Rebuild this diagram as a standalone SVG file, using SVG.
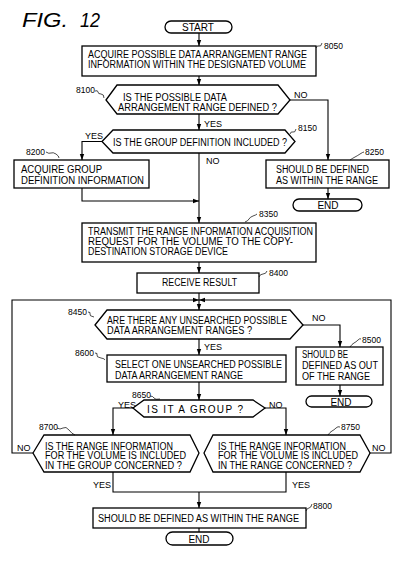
<svg xmlns="http://www.w3.org/2000/svg" width="400" height="567" viewBox="0 0 400 567">
<style>
.s{fill:#fff;stroke:#000;stroke-width:1.3}
.t{font-family:"Liberation Sans Narrow","Liberation Sans",Arial,sans-serif;font-size:10px;fill:#000}
.n{font-family:"Liberation Sans",Arial,sans-serif;font-size:8.5px;fill:#000}
.y{font-family:"Liberation Sans Narrow","Liberation Sans",Arial,sans-serif;font-size:9px;fill:#000}
.c{fill:none;stroke:#000;stroke-width:1.1}
.q{fill:none;stroke:#000;stroke-width:0.7}
.f{font-family:"Liberation Sans",Arial,sans-serif;font-style:italic;font-size:21px;fill:#000}
</style>
<defs>
<marker id="ah" viewBox="0 0 6 6" refX="6" refY="3" markerWidth="6" markerHeight="6" markerUnits="userSpaceOnUse" orient="auto"><path d="M0,0.8 L6,3 L0,5.2 z" fill="#000"/></marker>
</defs>
<rect width="400" height="567" fill="#fff"/>
<g id="title">
<text class="f" x="22" y="27" textLength="46" lengthAdjust="spacingAndGlyphs">FIG.</text>
<text class="f" x="80" y="27" textLength="20" lengthAdjust="spacingAndGlyphs">12</text>
</g>
<g id="connectors">
<path class="c" d="M199,33 V46" marker-end="url(#ah)"/>
<path class="c" d="M199,76 V85" marker-end="url(#ah)"/>
<path class="c" d="M290,100 H328 V160" marker-end="url(#ah)"/>
<path class="c" d="M199,114 V130" marker-end="url(#ah)"/>
<path class="c" d="M102,141.5 H82 V160" marker-end="url(#ah)"/>
<path class="c" d="M199,153 V223" marker-end="url(#ah)"/>
<path class="c" d="M82,188 V201 H199" marker-end="url(#ah)"/>
<path class="c" d="M328,188 V199" marker-end="url(#ah)"/>
<path class="c" d="M199,262 V273" marker-end="url(#ah)"/>
<path class="c" d="M199,293 V310" marker-end="url(#ah)"/>
<path class="c" d="M33,453 H12 V300 H199" marker-end="url(#ah)"/>
<path class="c" d="M370,453 H391 V300 H199" marker-end="url(#ah)"/>
<path class="c" d="M303,325 H340 V347" marker-end="url(#ah)"/>
<path class="c" d="M199,339 V355" marker-end="url(#ah)"/>
<path class="c" d="M340,385 V396" marker-end="url(#ah)"/>
<path class="c" d="M199,382 V400" marker-end="url(#ah)"/>
<path class="c" d="M133,408 H113 V435" marker-end="url(#ah)"/>
<path class="c" d="M265,408 H286 V435" marker-end="url(#ah)"/>
<path class="c" d="M113,472 V492 H286 V472"/>
<path class="c" d="M199,492 V508" marker-end="url(#ah)"/>
<path class="c" d="M199,528 V532" />
<text class="y" x="294" y="98">NO</text>
<text class="y" x="204" y="127">YES</text>
<text class="y" x="85" y="139">YES</text>
<text class="y" x="206" y="164">NO</text>
<text class="y" x="312" y="321">NO</text>
<text class="y" x="204" y="350">YES</text>
<text class="y" x="118" y="408">YES</text>
<text class="y" x="269" y="408">NO</text>
<text class="y" x="17" y="451">NO</text>
<text class="y" x="372" y="451">NO</text>
<text class="y" x="93" y="488">YES</text>
<text class="y" x="292" y="488">YES</text>
</g>
<g id="start">
<rect class="s" x="165" y="21" width="67" height="12" rx="6"/>
<text class="t" x="198" y="31" text-anchor="middle">START</text>
</g>
<g id="n8050">
<rect class="s" x="82" y="46" width="234" height="30"/>
<text class="t" x="88" y="58" textLength="219" lengthAdjust="spacingAndGlyphs">ACQUIRE POSSIBLE DATA ARRANGEMENT RANGE</text>
<text class="t" x="88" y="68" textLength="218" lengthAdjust="spacingAndGlyphs">INFORMATION WITHIN THE DESIGNATED VOLUME</text>
<path class="q" d="M316,48 q1,-3 3,-2 t3,-3"/>
<text class="n" x="324" y="49">8050</text>
</g>
<g id="n8100">
<polygon class="s" points="106,100 117,85 278,85 290,100 278,114 117,114"/>
<text class="t" x="123" y="101" textLength="104" lengthAdjust="spacingAndGlyphs">IS THE POSSIBLE DATA</text>
<text class="t" x="118" y="111" textLength="159" lengthAdjust="spacingAndGlyphs">ARRANGEMENT RANGE DEFINED ?</text>
<text class="n" x="76" y="93">8100</text>
<path class="q" d="M95,91 q3,-1 3,1 t3,2 t3,4"/>
</g>
<g id="n8150">
<polygon class="s" points="102,141.5 113,130 285,130 295,141.5 285,153 113,153"/>
<text class="t" x="113" y="146" textLength="174" lengthAdjust="spacingAndGlyphs">IS THE GROUP DEFINITION INCLUDED ?</text>
<path class="q" d="M290,134 q1,-3 3,-2 t3,-3"/>
<text class="n" x="298" y="131">8150</text>
</g>
<g id="n8200">
<rect class="s" x="14" y="160" width="135" height="28"/>
<text class="t" x="21" y="173" textLength="81" lengthAdjust="spacingAndGlyphs">ACQUIRE GROUP</text>
<text class="t" x="21" y="184" textLength="123" lengthAdjust="spacingAndGlyphs">DEFINITION INFORMATION</text>
<text class="n" x="26" y="155">8200</text>
<path class="q" d="M46,152 q3,2 5,1 t5,1 t3,4"/>
</g>
<g id="n8250">
<rect class="s" x="266" y="160" width="123" height="28"/>
<text class="t" x="276" y="173" textLength="93" lengthAdjust="spacingAndGlyphs">SHOULD BE DEFINED</text>
<text class="t" x="276" y="184" textLength="102" lengthAdjust="spacingAndGlyphs">AS WITHIN THE RANGE</text>
<path class="q" d="M350,160 q3,-2 5,-3 t5,-3 t4,-2"/>
<text class="n" x="365" y="155">8250</text>
</g>
<g id="end1">
<rect class="s" x="293" y="199" width="69" height="12" rx="6"/>
<text class="t" x="328" y="209" text-anchor="middle">END</text>
</g>
<g id="n8350">
<rect class="s" x="82" y="223" width="234" height="39"/>
<text class="t" x="88" y="235" textLength="225" lengthAdjust="spacingAndGlyphs">TRANSMIT THE RANGE INFORMATION ACQUISITION</text>
<text class="t" x="88" y="245" textLength="205" lengthAdjust="spacingAndGlyphs">REQUEST FOR THE VOLUME TO THE COPY-</text>
<text class="t" x="88" y="255" textLength="140" lengthAdjust="spacingAndGlyphs">DESTINATION STORAGE DEVICE</text>
<path class="q" d="M245,222 q3,-1 4,-3 t4,-3 t4,-2"/>
<text class="n" x="259" y="217">8350</text>
</g>
<g id="n8400">
<rect class="s" x="137" y="273" width="122" height="20"/>
<text class="t" x="162" y="286" textLength="75" lengthAdjust="spacingAndGlyphs">RECEIVE RESULT</text>
<path class="q" d="M259,277 q1,-3 4,-3 t4,-3"/>
<text class="n" x="269" y="276">8400</text>
</g>
<g id="n8450">
<polygon class="s" points="95,325 107,310 290,310 303,325 290,339 107,339"/>
<text class="t" x="107" y="324" textLength="180" lengthAdjust="spacingAndGlyphs">ARE THERE ANY UNSEARCHED POSSIBLE</text>
<text class="t" x="107" y="334" textLength="145" lengthAdjust="spacingAndGlyphs">DATA ARRANGEMENT RANGES ?</text>
<text class="n" x="68" y="315">8450</text>
<path class="q" d="M88,312 q3,0 2,2 t4,3"/>
</g>
<g id="n8500">
<rect class="s" x="296" y="347" width="87" height="38"/>
<text class="t" x="302" y="358" textLength="46" lengthAdjust="spacingAndGlyphs">SHOULD BE</text>
<text class="t" x="302" y="369" textLength="76" lengthAdjust="spacingAndGlyphs">DEFINED AS OUT</text>
<text class="t" x="302" y="380" textLength="68" lengthAdjust="spacingAndGlyphs">OF THE RANGE</text>
<path class="q" d="M350,347 q2,-3 4,-4 t4,-3 t3,-1"/>
<text class="n" x="362" y="343">8500</text>
</g>
<g id="end2">
<rect class="s" x="306" y="396" width="66" height="11" rx="5.5"/>
<text class="t" x="341" y="405.5" text-anchor="middle">END</text>
</g>
<g id="n8600">
<rect class="s" x="107" y="355" width="179" height="27"/>
<text class="t" x="115" y="367.5" textLength="167" lengthAdjust="spacingAndGlyphs">SELECT ONE UNSEARCHED POSSIBLE</text>
<text class="t" x="115" y="378.5" textLength="128" lengthAdjust="spacingAndGlyphs">DATA ARRANGEMENT RANGE</text>
<text class="n" x="75" y="356">8600</text>
<path class="q" d="M95,353 q3,0 2,2 t4,3 t3,2"/>
</g>
<g id="n8650">
<polygon class="s" points="133,408 144,400 253,400 265,408 253,417 144,417"/>
<text class="t" x="147" y="412.5" textLength="96" lengthAdjust="spacing">IS IT A GROUP ?</text>
<text class="n" x="132" y="398">8650</text>
<path class="q" d="M150,396 q3,0 4,2 t6,1"/>
</g>
<g id="n8700">
<polygon class="s" points="33,453 44,435 190,435 199,453 190,472 44,472"/>
<text class="t" x="45" y="449.5" textLength="128" lengthAdjust="spacingAndGlyphs">IS THE RANGE INFORMATION</text>
<text class="t" x="45" y="459" textLength="141" lengthAdjust="spacingAndGlyphs">FOR THE VOLUME IS INCLUDED</text>
<text class="t" x="45" y="468.5" textLength="137" lengthAdjust="spacingAndGlyphs">IN THE GROUP CONCERNED ?</text>
<text class="n" x="39" y="430">8700</text>
<path class="q" d="M57,428 q3,2 6,0 t6,2 t6,5"/>
</g>
<g id="n8750">
<polygon class="s" points="204,453 213,435 360,435 370,453 360,472 213,472"/>
<text class="t" x="218" y="449.5" textLength="128" lengthAdjust="spacingAndGlyphs">IS THE RANGE INFORMATION</text>
<text class="t" x="218" y="459" textLength="140" lengthAdjust="spacingAndGlyphs">FOR THE VOLUME IS INCLUDED</text>
<text class="t" x="218" y="468.5" textLength="134" lengthAdjust="spacingAndGlyphs">IN THE RANGE CONCERNED ?</text>
<path class="q" d="M328,435 q2,-3 4,-4 t4,-3 t4,-1"/>
<text class="n" x="341" y="430">8750</text>
</g>
<g id="n8800">
<rect class="s" x="93" y="508" width="213" height="20"/>
<text class="t" x="98" y="522" textLength="201" lengthAdjust="spacingAndGlyphs">SHOULD BE DEFINED AS WITHIN THE RANGE</text>
<path class="q" d="M306,511 q1,-3 3,-3 t3,-4"/>
<text class="n" x="313" y="509">8800</text>
</g>
<g id="end3">
<rect class="s" x="166" y="532" width="67" height="13" rx="6.5"/>
<text class="t" x="199" y="542.5" text-anchor="middle">END</text>
</g>
</svg>
